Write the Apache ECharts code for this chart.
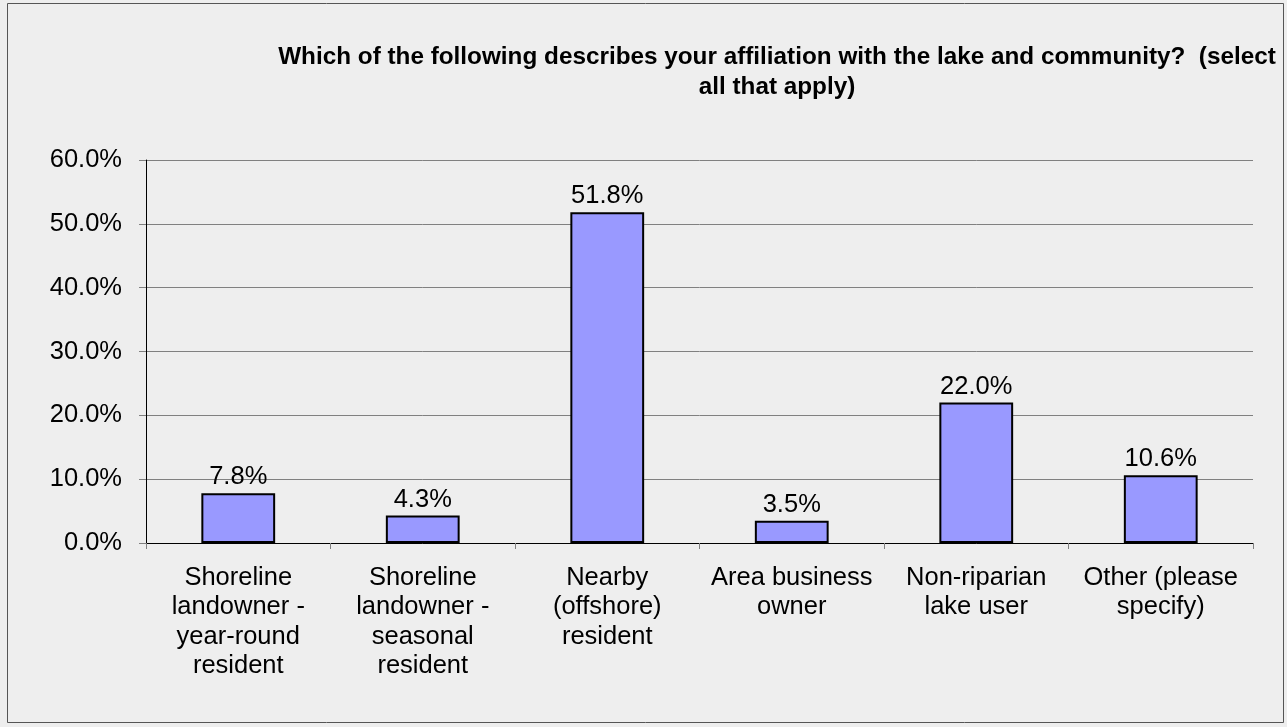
<!DOCTYPE html>
<html><head><meta charset="utf-8">
<script src="https://cdn.jsdelivr.net/npm/echarts@6/dist/echarts.min.js"></script>
<style>html,body{margin:0;padding:0;background:#fff}#c{width:1287px;height:727px}</style>
</head><body><div id="c"></div>
<script>
const categories = ["Shoreline\nlandowner -\nyear-round\nresident","Shoreline\nlandowner -\nseasonal\nresident","Nearby\n(offshore)\nresident","Area business\nowner","Non-riparian\nlake user","Other (please\nspecify)"];
const values = [7.8, 4.3, 51.8, 3.5, 22.0, 10.6];
const yTicks = [0, 10, 20, 30, 40, 50, 60];
const titleText = "Which of the following describes your affiliation with the lake and community?  (select\nall that apply)";

const FONT = '"Liberation Sans",Arial,sans-serif';
const chart = echarts.init(document.getElementById('c'), null, {renderer:'canvas'});
chart.setOption({
  backgroundColor: '#eeeeee',
  animation: false,
  graphic: [{type:'rect', shape:{x:7.5,y:3.5,width:1276,height:719}, style:{fill:'none', stroke:'#555555', lineWidth:1}, silent:true}],
  title: {
    text: titleText, left: 772, top: 37, textAlign: 'center',
    textStyle: {fontFamily:'"Liberation Sans Narrow","Liberation Sans",Arial,sans-serif', fontSize:24.3, fontWeight:'bold', color:'#000', lineHeight:30}
  },
  grid: {left:146, right:34, top:160, bottom:184, containLabel:false},
  xAxis: {
    type:'category', data: categories,
    axisLine:{show:true, lineStyle:{color:'#000', width:1}},
    axisTick:{show:true, alignWithLabel:false, length:6, lineStyle:{color:'#808080'}},
    axisLabel:{interval:0, margin:20, color:'#000', fontSize:25.5, lineHeight:29.5, fontFamily:FONT}
  },
  yAxis: {
    type:'value', min:0, max:60, interval:10,
    axisLine:{show:true, lineStyle:{color:'#000'}},
    axisTick:{show:true, length:7, lineStyle:{color:'#808080'}},
    splitLine:{show:true, lineStyle:{color:'#808080', width:1}},
    axisLabel:{margin:24, color:'#000', fontSize:25.5, fontFamily:FONT,
      formatter: v => yTicks.includes(v) ? v.toFixed(1) + '%' : ''}
  },
  series: [{
    type:'bar', data: values, barWidth:'40%',
    itemStyle:{color:'#9999ff', borderColor:'#000', borderWidth:2},
    label:{show:true, position:'top', distance:3, color:'#000', fontSize:25.5, fontFamily:FONT,
      formatter: p => p.value.toFixed(1) + '%'}
  }]
});
</script></body></html>
